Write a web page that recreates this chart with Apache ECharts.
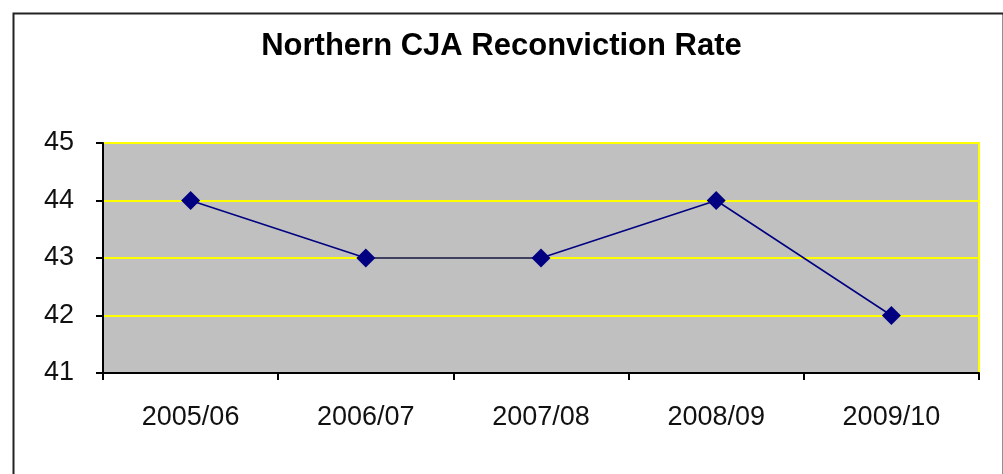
<!DOCTYPE html>
<html><head><meta charset="utf-8">
<script src="https://cdn.jsdelivr.net/npm/echarts@6/dist/echarts.min.js"></script>
<style>html,body{margin:0;padding:0;background:#fff}#c{width:1003px;height:474px}</style>
</head><body><div id="c"></div>
<script>
var categories = ['2005/06', '2006/07', '2007/08', '2008/09', '2009/10'];
var rates = [44, 43, 43, 44, 42];
var yTicks = [41, 42, 43, 44, 45];

var chart = echarts.init(document.getElementById('c'));
chart.setOption({
  backgroundColor: '#ffffff',
  animation: false,
  title: {
    text: 'Northern CJA Reconviction Rate',
    left: 'center', top: 26,
    textStyle: {fontFamily: 'Liberation Sans, Arial', fontSize: 31, fontWeight: 'bold', color: '#000'}
  },
  graphic: [{
    type: 'rect', left: 11, top: 11, z: 100,
    shape: {width: 990, height: 480},
    style: {fill: 'none', stroke: '#222', lineWidth: 2}
  }],
  grid: {
    left: 103, right: 24, top: 143, bottom: 101,
    show: true, backgroundColor: '#C0C0C0', borderColor: '#FFFF00', borderWidth: 2
  },
  xAxis: {
    type: 'category', data: categories, boundaryGap: true,
    axisLine: {lineStyle: {color: '#000', width: 2}},
    axisTick: {show: true, length: 7, alignWithLabel: false, lineStyle: {color: '#000', width: 2}},
    axisLabel: {color: '#111', fontFamily: 'Liberation Sans, Arial', fontSize: 27, margin: 31}
  },
  yAxis: {
    type: 'value', min: yTicks[0], max: yTicks[yTicks.length - 1], interval: 1,
    axisLine: {show: true, lineStyle: {color: '#000', width: 2}},
    axisTick: {show: true, length: 7, lineStyle: {color: '#000', width: 2}},
    axisLabel: {color: '#111', fontFamily: 'Liberation Sans, Arial', fontSize: 27, margin: 29},
    splitLine: {show: true, lineStyle: {color: '#FFFF00', width: 2}}
  },
  series: [{
    type: 'line', data: rates,
    symbol: 'diamond', symbolSize: 19,
    itemStyle: {color: '#000080'},
    lineStyle: {color: '#000080', width: 1.5}
  }]
});
</script></body></html>
